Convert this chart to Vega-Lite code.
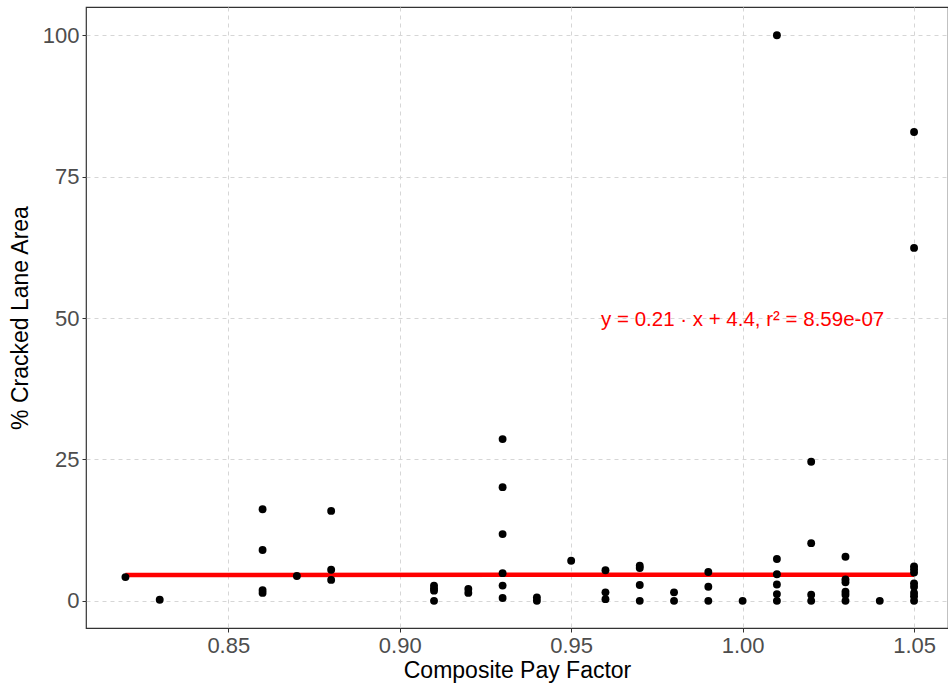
{
  "$schema": "https://vega.github.io/schema/vega-lite/v6.json",
  "width": 862,
  "height": 621,
  "autosize": {"type": "none"},
  "padding": {"left": 86, "top": 7, "right": 0, "bottom": 62},
  "background": "white",
  "config": {
    "font": "Liberation Sans",
    "view": {"stroke": "#333333", "strokeWidth": 1.2},
    "axis": {
      "grid": true,
      "gridColor": "#D6D6D6",
      "gridDash": [4, 4],
      "gridWidth": 1,
      "domain": false,
      "tickColor": "#333333",
      "tickSize": 4,
      "labelFontSize": 22,
      "labelColor": "#4D4D4D",
      "titleFontSize": 23,
      "titleFontWeight": "normal",
      "titleColor": "#000000"
    }
  },
  "datasets": {
    "pts": [
      {"cpf": 0.82, "crack": 4.2},
      {"cpf": 0.83, "crack": 0.2},
      {"cpf": 0.86, "crack": 16.2},
      {"cpf": 0.86, "crack": 9.0},
      {"cpf": 0.86, "crack": 1.9},
      {"cpf": 0.86, "crack": 1.4},
      {"cpf": 0.87, "crack": 4.4},
      {"cpf": 0.88, "crack": 15.9},
      {"cpf": 0.88, "crack": 5.5},
      {"cpf": 0.88, "crack": 3.7},
      {"cpf": 0.91, "crack": 2.7},
      {"cpf": 0.91, "crack": 2.2},
      {"cpf": 0.91, "crack": 1.8},
      {"cpf": 0.91, "crack": 0.0},
      {"cpf": 0.92, "crack": 2.1},
      {"cpf": 0.92, "crack": 1.4},
      {"cpf": 0.93, "crack": 28.6},
      {"cpf": 0.93, "crack": 20.1},
      {"cpf": 0.93, "crack": 11.8},
      {"cpf": 0.93, "crack": 4.9},
      {"cpf": 0.93, "crack": 2.7},
      {"cpf": 0.93, "crack": 0.5},
      {"cpf": 0.94, "crack": 0.6},
      {"cpf": 0.94, "crack": 0.0},
      {"cpf": 0.95, "crack": 7.1},
      {"cpf": 0.96, "crack": 5.4},
      {"cpf": 0.96, "crack": 1.5},
      {"cpf": 0.96, "crack": 0.3},
      {"cpf": 0.97, "crack": 6.2},
      {"cpf": 0.97, "crack": 5.8},
      {"cpf": 0.97, "crack": 2.8},
      {"cpf": 0.97, "crack": 0.0},
      {"cpf": 0.98, "crack": 1.5},
      {"cpf": 0.98, "crack": 0.0},
      {"cpf": 0.99, "crack": 5.1},
      {"cpf": 0.99, "crack": 2.5},
      {"cpf": 0.99, "crack": 0.0},
      {"cpf": 1.0, "crack": 0.0},
      {"cpf": 1.01, "crack": 100.0},
      {"cpf": 1.01, "crack": 7.4},
      {"cpf": 1.01, "crack": 4.7},
      {"cpf": 1.01, "crack": 2.9},
      {"cpf": 1.01, "crack": 1.2},
      {"cpf": 1.01, "crack": 0.0},
      {"cpf": 1.02, "crack": 24.6},
      {"cpf": 1.02, "crack": 10.2},
      {"cpf": 1.02, "crack": 1.1},
      {"cpf": 1.02, "crack": 0.0},
      {"cpf": 1.03, "crack": 7.8},
      {"cpf": 1.03, "crack": 3.8},
      {"cpf": 1.03, "crack": 3.3},
      {"cpf": 1.03, "crack": 1.6},
      {"cpf": 1.03, "crack": 1.1},
      {"cpf": 1.03, "crack": 0.0},
      {"cpf": 1.04, "crack": 0.0},
      {"cpf": 1.05, "crack": 82.9},
      {"cpf": 1.05, "crack": 62.4},
      {"cpf": 1.05, "crack": 6.1},
      {"cpf": 1.05, "crack": 5.6},
      {"cpf": 1.05, "crack": 5.0},
      {"cpf": 1.05, "crack": 3.1},
      {"cpf": 1.05, "crack": 2.5},
      {"cpf": 1.05, "crack": 1.4},
      {"cpf": 1.05, "crack": 0.8},
      {"cpf": 1.05, "crack": 0.0}
    ],
    "fit": [
      {"cpf": 0.82, "crack": 4.572},
      {"cpf": 1.05, "crack": 4.6205}
    ],
    "note": [
      {"cpf": 1.0, "crack": 49.6, "label": "y = 0.21 · x + 4.4,  r² = 8.59e-07"}
    ]
  },
  "layer": [
    {
      "data": {"name": "fit"},
      "mark": {"type": "line", "color": "#FF0000", "strokeWidth": 4.5, "clip": true},
      "encoding": {
        "x": {
          "field": "cpf", "type": "quantitative",
          "scale": {"domain": [0.8085, 1.0599], "nice": false, "zero": false},
          "axis": {"values": [0.85, 0.9, 0.95, 1.0, 1.05], "format": ".2f", "title": "Composite Pay Factor", "labelPadding": 3, "titlePadding": 3}
        },
        "y": {
          "field": "crack", "type": "quantitative",
          "scale": {"domain": [-4.8, 105], "nice": false, "zero": false},
          "axis": {"values": [0, 25, 50, 75, 100], "title": "% Cracked Lane Area", "labelPadding": 3, "titlePadding": 10}
        }
      }
    },
    {
      "data": {"name": "pts"},
      "mark": {"type": "circle", "color": "#000000", "opacity": 1, "size": 62, "clip": true},
      "encoding": {
        "x": {"field": "cpf", "type": "quantitative"},
        "y": {"field": "crack", "type": "quantitative"}
      }
    },
    {
      "data": {"name": "note"},
      "mark": {"type": "text", "color": "#FF0000", "fontSize": 20.5, "align": "center", "baseline": "middle"},
      "encoding": {
        "x": {"field": "cpf", "type": "quantitative"},
        "y": {"field": "crack", "type": "quantitative"},
        "text": {"field": "label"}
      }
    }
  ]
}
